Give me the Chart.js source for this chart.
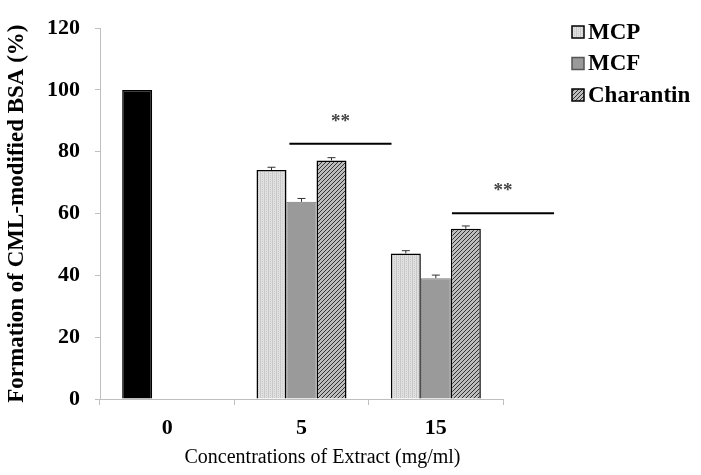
<!DOCTYPE html>
<html>
<head>
<meta charset="utf-8">
<script src="https://cdn.jsdelivr.net/npm/chart.js@4"></script>
<style>
  html, body { margin: 0; padding: 0; background: #fff; }
</style>
</head>
<body>
<canvas id="chart" width="701" height="475"></canvas>
<script>
const concentrations = ['0', '5', '15'];
const seriesNames = ['MCP', 'MCF', 'Charantin'];
const xTitle = 'Concentrations of Extract (mg/ml)';
const yTitle = 'Formation of CML-modified BSA (%)';

// control (untreated) sits in the first slot of the "0" group
const controlValues = [100, null, null];
const mcpValues = [null, 74.1, 47.1];
const mcfValues = [null, 63.8, 39.1];
const charantinValues = [null, 77.2, 55.1];

const mcpErrors = [0, 0.9, 0.9];
const mcfErrors = [0, 1.1, 1.0];
const charantinErrors = [0, 0.9, 0.9];

// significance markers: category index, line span (in category units), line level, star level
const sigCategories = [1, 2];
const sigFrom = [-0.09, 0.12];
const sigTo = [0.67, 0.88];
const sigLineLevel = [82.6, 60.1];
const sigStarLevel = [89.5, 67.2];

const FONT = "'Liberation Serif', 'Times New Roman', serif";

const tile = (size, bg, draw) => {
  const c = document.createElement('canvas');
  c.width = size; c.height = size;
  const g = c.getContext('2d');
  g.fillStyle = bg;
  g.fillRect(0, 0, size, size);
  draw(g);
  return document.createElement('canvas').getContext('2d').createPattern(c, 'repeat');
};

const dottedFill = tile(4, '#e0e0e0', (g) => {
  g.fillStyle = '#c8c8c8';
  g.fillRect(0, 0, 1, 4);
  g.fillRect(2, 1, 1, 1);
  g.fillRect(2, 3, 1, 1);
});
const greyFill = '#9a9a9a';
const hatchFill = tile(4, '#bdbdbd', (g) => {
  g.strokeStyle = '#333';
  g.lineWidth = 1;
  g.beginPath();
  g.moveTo(0, 4); g.lineTo(4, 0);
  g.moveTo(-1, 1); g.lineTo(1, -1);
  g.moveTo(3, 5); g.lineTo(5, 3);
  g.stroke();
});

const legendFills = [dottedFill, greyFill, hatchFill];
const legendBorders = ['#000', '#555', '#000'];

const errorBars = {
  id: 'errorBars',
  afterDatasetsDraw(chart) {
    const { ctx } = chart;
    const y = chart.scales.y;
    chart.data.datasets.forEach((ds, di) => {
      chart.getDatasetMeta(di).data.forEach((bar, i) => {
        const v = ds.data[i];
        const e = ds.errors[i];
        if (v == null || !e) return;
        const top = y.getPixelForValue(v + e);
        ctx.save();
        ctx.strokeStyle = '#333';
        ctx.lineWidth = 1;
        ctx.beginPath();
        ctx.moveTo(bar.x, bar.y);
        ctx.lineTo(bar.x, top);
        ctx.moveTo(bar.x - 4, top);
        ctx.lineTo(bar.x + 4, top);
        ctx.stroke();
        ctx.restore();
      });
    });
  },
};

const significance = {
  id: 'significance',
  afterDatasetsDraw(chart) {
    const { ctx } = chart;
    const { x, y } = chart.scales;
    ctx.save();
    sigCategories.forEach((cat, i) => {
      const x1 = x.getPixelForValue(cat + sigFrom[i]);
      const x2 = x.getPixelForValue(cat + sigTo[i]);
      const ly = y.getPixelForValue(sigLineLevel[i]);
      ctx.strokeStyle = '#000';
      ctx.lineWidth = 2;
      ctx.beginPath();
      ctx.moveTo(x1, ly);
      ctx.lineTo(x2, ly);
      ctx.stroke();
      ctx.fillStyle = '#444';
      ctx.font = `bold 19px ${FONT}`;
      ctx.textAlign = 'center';
      ctx.textBaseline = 'middle';
      ctx.fillText('**', (x1 + x2) / 2, y.getPixelForValue(sigStarLevel[i]));
    });
    ctx.restore();
  },
};

// legend beside the plot and the x title (sits a bit right of centre in the original)
const sideLegend = {
  id: 'sideLegend',
  afterDraw(chart) {
    const { ctx, chartArea } = chart;
    ctx.save();
    ctx.font = `bold 23px ${FONT}`;
    ctx.textBaseline = 'middle';
    ctx.textAlign = 'left';
    seriesNames.forEach((name, i) => {
      const cy = 32 + i * 31.5;
      ctx.fillStyle = legendFills[i];
      ctx.fillRect(572, cy - 6, 12, 12);
      ctx.strokeStyle = legendBorders[i];
      ctx.lineWidth = 1.5;
      ctx.strokeRect(572, cy - 6, 12, 12);
      ctx.fillStyle = '#000';
      ctx.fillText(name, 588, cy + 1);
    });

    ctx.font = `20px ${FONT}`;
    ctx.textAlign = 'center';
    ctx.fillText(xTitle, (chartArea.left + chartArea.right) / 2 + 21, 458);
    ctx.restore();
  },
};

const mcpData = concentrations.map((_, i) => controlValues[i] ?? mcpValues[i]);

new Chart(document.getElementById('chart'), {
  type: 'bar',
  data: {
    labels: concentrations,
    datasets: [
      {
        label: seriesNames[0],
        data: mcpData,
        errors: mcpErrors,
        backgroundColor: mcpData.map((_, i) => (controlValues[i] != null ? '#000' : dottedFill)),
        borderColor: '#000',
        borderWidth: 1.5,
      },
      {
        label: seriesNames[1],
        data: mcfValues,
        errors: mcfErrors,
        backgroundColor: greyFill,
        borderColor: '#7a7a7a',
        borderWidth: 1,
      },
      {
        label: seriesNames[2],
        data: charantinValues,
        errors: charantinErrors,
        backgroundColor: hatchFill,
        borderColor: '#000',
        borderWidth: 1.5,
      },
    ],
  },
  options: {
    responsive: false,
    devicePixelRatio: 1,
    animation: false,
    layout: { padding: { top: 14, right: 198, bottom: 0, left: 0 } },
    datasets: { bar: { categoryPercentage: 0.67, barPercentage: 1 } },
    plugins: {
      legend: { display: false },
      tooltip: { enabled: false },
    },
    scales: {
      x: {
        grid: { offset: true, drawOnChartArea: false, tickLength: 6, color: '#bfbfbf' },
        border: { color: '#bfbfbf' },
        ticks: { color: '#000', padding: 10, font: { family: FONT, size: 22, weight: 'bold' } },
        afterFit: (s) => { s.height = 76; },
      },
      y: {
        min: 0,
        max: 120,
        grid: { drawOnChartArea: false, tickLength: 5, color: '#bfbfbf' },
        border: { color: '#bfbfbf' },
        ticks: { stepSize: 20, color: '#000', padding: 15, font: { family: FONT, size: 22, weight: 'bold' } },
        title: {
          display: true,
          text: yTitle,
          color: '#000',
          font: { family: FONT, size: 23, weight: 'bold' },
          padding: { top: 3, bottom: 0 },
        },
        afterFit: (s) => { s.width = 100; },
      },
    },
  },
  plugins: [errorBars, significance, sideLegend],
});
</script>
</body>
</html>
